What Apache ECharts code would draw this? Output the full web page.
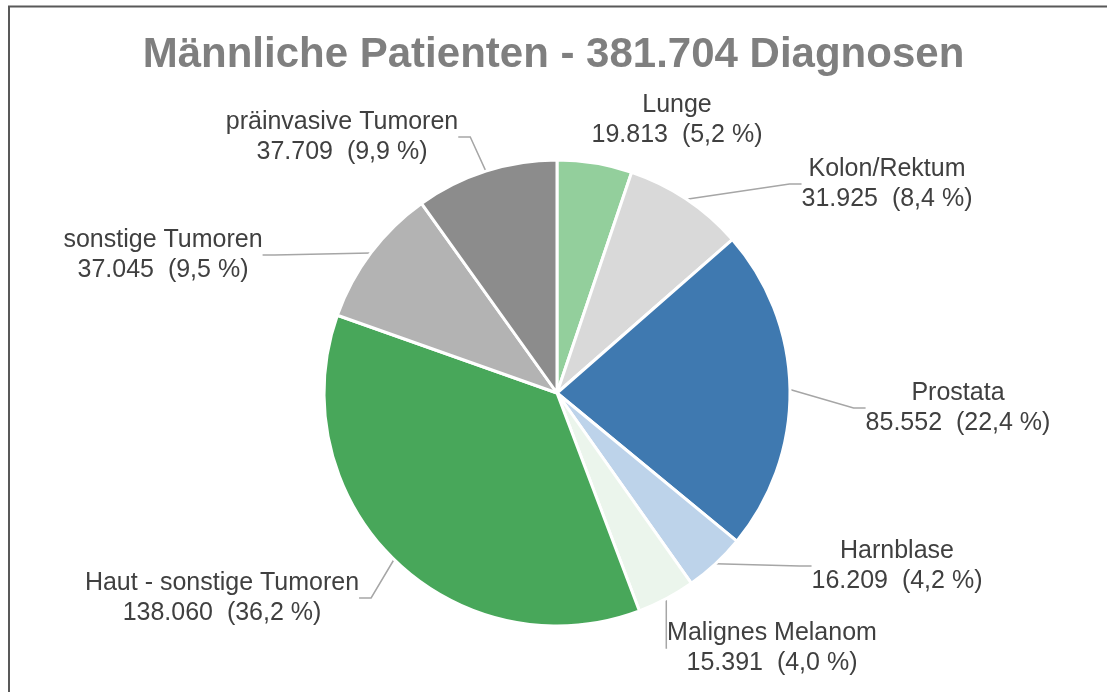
<!DOCTYPE html>
<html lang="de">
<head>
    <meta charset="UTF-8">
    <title>Männliche Patienten</title>
    <style>
        html, body { margin: 0; padding: 0; background: #fff; }
        #main { width: 1107px; height: 692px; }
    </style>
</head>
<body>
    <div id="main"></div>
</body>
<script src="https://cdn.jsdelivr.net/npm/echarts@6/dist/echarts.min.js"></script>
<script>
    // data
    var names = ['Lunge', 'Kolon/Rektum', 'Prostata', 'Harnblase', 'Malignes Melanom',
        'Haut - sonstige Tumoren', 'sonstige Tumoren', 'präinvasive Tumoren']
    var values = [19813, 31925, 85552, 16209, 15391, 138060, 37045, 37709]
    var pctLabels = ['5,2', '8,4', '22,4', '4,2', '4,0', '36,2', '9,5', '9,9']
    var colors = ['#93cf9c', '#d9d9d9', '#3f79b0', '#bdd3ea', '#ebf5ec', '#48a75a', '#b3b3b3', '#8c8c8c']

    // where each label sits (centre of the text block)
    var labelPos = [
        [677, 120], [887, 184], [958, 408], [897, 566],
        [772, 648], [222, 598], [163, 255], [342, 137]
    ]

    function fmtNum(v) {
        return String(v).replace(/\B(?=(\d{3})+(?!\d))/g, '.')
    }

    var data = names.map(function (n, i) {
        return {
            name: n,
            value: values[i],
            itemStyle: { color: colors[i] },
            labelLine: { show: i !== 0 }
        }
    })

    var main = echarts.init(document.getElementById('main'))
    var option = {
        animation: false,
        title: {
            text: 'Männliche Patienten - 381.704 Diagnosen',
            left: 'center',
            top: 29,
            textStyle: {
                fontFamily: 'Liberation Sans',
                fontSize: 42,
                fontWeight: 'bold',
                color: '#7f7f7f'
            }
        },
        graphic: [
            { type: 'line', shape: { x1: 8, y1: 6.5, x2: 1107, y2: 6.5 }, style: { stroke: '#595959', lineWidth: 2 } },
            { type: 'line', shape: { x1: 9, y1: 6, x2: 9, y2: 692 }, style: { stroke: '#595959', lineWidth: 2 } }
        ],
        series: [
            {
                type: 'pie',
                center: [557, 393],
                radius: 233,
                startAngle: 90,
                clockwise: true,
                itemStyle: { borderColor: '#fff', borderWidth: 3 },
                label: {
                    show: true,
                    position: 'outside',
                    fontFamily: 'Liberation Sans',
                    fontSize: 25,
                    lineHeight: 30,
                    color: '#404040',
                    align: 'center',
                    formatter: function (p) {
                        return p.name + '\n' + fmtNum(p.value) + '  (' + pctLabels[p.dataIndex] + ' %)'
                    }
                },
                labelLine: {
                    show: true,
                    length: 15,
                    length2: 12,
                    lineStyle: { color: '#a6a6a6', width: 1.5 }
                },
                labelLayout: function (p) {
                    var pos = labelPos[p.dataIndex]
                    return {
                        x: pos[0],
                        y: pos[1],
                        align: 'center',
                        verticalAlign: 'middle'
                    }
                },
                emphasis: { disabled: true },
                data: data
            }
        ]
    }
    main.setOption(option)
</script>
</html>
